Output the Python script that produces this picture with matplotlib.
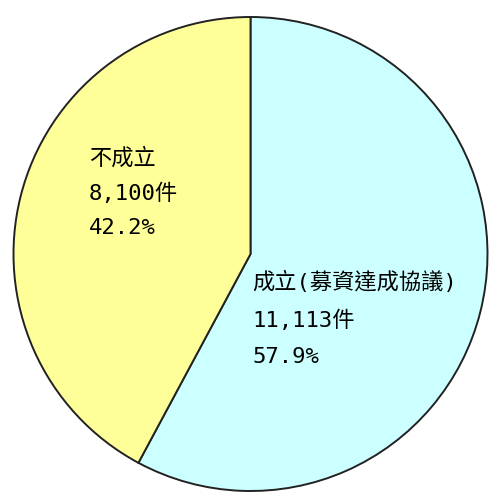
import matplotlib
matplotlib.use("Agg")
import matplotlib.pyplot as plt

plt.rcParams['font.family'] = ['DejaVu Sans Mono', 'Noto Sans CJK TC', 'DejaVu Sans']

categories = ["成立(募資達成協議)", "不成立"]
counts = [11113, 8100]
count_labels = ["11,113件", "8,100件"]
pct_labels = ["57.9%", "42.2%"]
colors = ["#CCFFFF", "#FFFF99"]

W, H = 501, 493
fig = plt.figure(figsize=(W / 100, H / 100), dpi=100)
ax = fig.add_axes([0, 0, 1, 1])

ax.pie(counts, colors=colors, startangle=90, counterclock=False,
       center=(250.5, H - 254), radius=237, frame=True,
       wedgeprops=dict(edgecolor="#222222", linewidth=1.4))
ax.set_xlim(0, W)
ax.set_ylim(0, H)
ax.set_aspect('equal')
ax.axis('off')

# label positions (pixel coords, top-left origin)
label_pos = [(252, [282, 320, 357]), (89, [158, 193, 228])]
for (x, ys), cat, cl, pl in zip(label_pos, categories, count_labels, pct_labels):
    for y, s in zip(ys, [cat, cl, pl]):
        ax.text(x, H - y, s, fontsize=16, color="black", ha="left", va="center")

fig.savefig("out.png", dpi=100)
